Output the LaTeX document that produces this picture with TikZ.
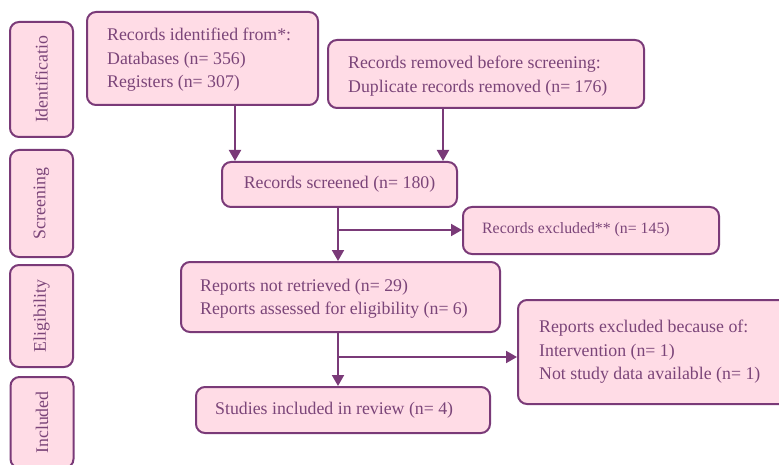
\documentclass[tikz,border=0pt]{standalone}
\usepackage{fontspec}
\setmainfont{Liberation Serif}
\usetikzlibrary{arrows.meta}
\definecolor{bord}{HTML}{7A3A78}
\definecolor{boxfill}{HTML}{FFDCE6}
\definecolor{txt}{HTML}{7B4579}
\tikzset{
  box/.style={draw=bord, fill=boxfill, line width=2pt, rounded corners=9pt,
    anchor=north west, inner sep=0pt},
  lbl/.style={anchor=west, align=left, inner sep=0pt, text=txt,
    font=\fontsize{17.8}{23.5}\selectfont},
  side/.style={draw=bord, fill=boxfill, line width=2pt, rounded corners=9pt,
    rotate=90, minimum height=63pt, inner sep=0pt, text=txt,
    font=\fontsize{17.8}{22}\selectfont},
  arr/.style={draw=bord, line width=2pt, -{Triangle[width=12pt,length=11pt]}}
}
\begin{document}
\begin{tikzpicture}[x=1pt,y=-1pt]
\path[clip] (0,0) rectangle (779,465);
% side labels
\node[side, minimum width=115pt] (s1) at (41.5,79.5) {Identificatio};
\node[side, minimum width=107pt] (s2) at (41.5,203.5) {Screening};
\node[side, minimum width=102pt] (s3) at (41.5,316) {Eligibility};
\node[side, minimum width=91pt] (s4) at (42,422.5) {Included};
% boxes
\node[box, minimum width=231pt, minimum height=93pt] (ident) at (86,11) {};
\node[lbl] (identt) at ([xshift=21pt,yshift=-1.5pt]ident.west)
  {Records identified from*:\\Databases (n= 356)\\Registers (n= 307)};
\node[box, minimum width=316pt, minimum height=68pt] (remov) at (327,39) {};
\node[lbl] (removt) at ([xshift=21pt,yshift=-2pt]remov.west)
  {Records removed before screening:\\Duplicate records removed (n= 176)};
\node[box, minimum width=235pt, minimum height=45pt] (scr) at (221,161) {};
\node[lbl, anchor=center] (scrt) at (scr.center) {Records screened (n= 180)};
\node[box, minimum width=256pt, minimum height=47pt] (excl) at (462,206) {};
\node[lbl, font=\fontsize{15.8}{20}\selectfont] (exclt) at ([xshift=20pt,yshift=1pt]excl.west)
  {Records excluded** (n= 145)};
\node[box, minimum width=319pt, minimum height=70pt] (rep) at (180,261) {};
\node[lbl] (rept) at ([xshift=20pt,yshift=-1.5pt]rep.west)
  {Reports not retrieved (n= 29)\\Reports assessed for eligibility (n= 6)};
\node[box, minimum width=294pt, minimum height=46pt] (stud) at (195,386) {};
\node[lbl] (studt) at ([xshift=20pt]stud.west)
  {Studies included in review (n= 4)};
\node[box, minimum width=275pt, minimum height=104pt] (repex) at (517,299) {};
\node[lbl] (repext) at ([xshift=22pt]repex.west)
  {Reports excluded because of:\\Intervention (n= 1)\\Not study data available (n= 1)};
% connector coordinates
\coordinate (c1) at (235,0);
\coordinate (c2) at (443,0);
\coordinate (c3) at (338,0);
\coordinate (b1) at (0,230);
\coordinate (b2) at (0,357);
% connectors
\draw[arr] (ident.south -| c1) -- (scr.north -| c1);
\draw[arr] (remov.south -| c2) -- (scr.north -| c2);
\draw[arr] (scr.south -| c3) -- (rep.north -| c3);
\draw[arr] (c3 |- b1) -- (excl.west |- b1);
\draw[arr] (rep.south -| c3) -- (stud.north -| c3);
\draw[arr] (c3 |- b2) -- (repex.west |- b2);
\end{tikzpicture}
\end{document}
